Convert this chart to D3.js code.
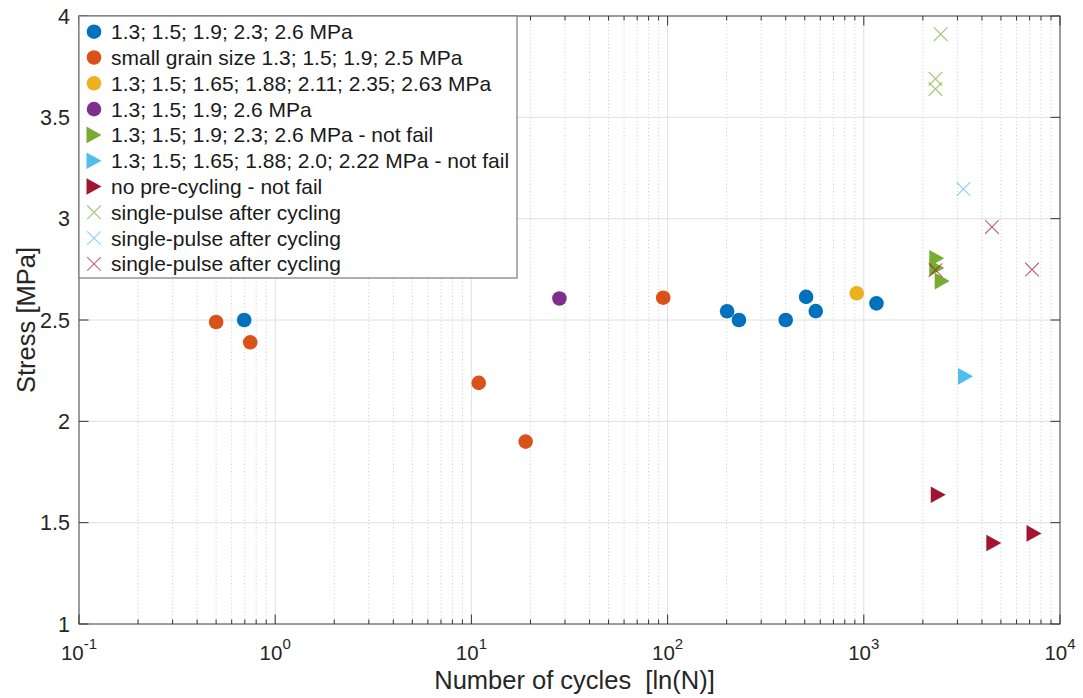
<!DOCTYPE html>
<html>
<head>
<meta charset="utf-8">
<script src="https://cdn.jsdelivr.net/npm/d3@7/dist/d3.min.js"></script>
<style>
  body { margin: 0; background: #fff; }
  svg { display: block; font-family: "Liberation Sans", Arial, Helvetica, sans-serif; }
</style>
</head>
<body>
<svg id="chart" width="1083" height="698"></svg>
<script>
// data
var blueN = [0.695, 201, 231, 400, 508, 569, 1160];
var blueS = [2.50, 2.543, 2.50, 2.50, 2.614, 2.544, 2.582];
var orangeN = [0.50, 0.746, 10.9, 18.9, 95];
var orangeS = [2.49, 2.39, 2.19, 1.90, 2.61];
var yellowN = [920];
var yellowS = [2.632];
var purpleN = [28.1];
var purpleS = [2.606];
var greenTriN = [2355, 2355, 2510];
var greenTriS = [2.805, 2.757, 2.692];
var cyanTriN = [3300];
var cyanTriS = [2.222];
var redTriN = [2395, 4600, 7370];
var redTriS = [1.638, 1.40, 1.447];
var greenXN = [2466, 2318, 2318];
var greenXS = [3.91, 3.69, 3.64];
var cyanXN = [3220];
var cyanXS = [3.146];
var redXN = [2320, 4500, 7200];
var redXS = [2.746, 2.959, 2.749];

var legendLabels = [
    '1.3; 1.5; 1.9; 2.3; 2.6 MPa',
    'small grain size 1.3; 1.5; 1.9; 2.5 MPa',
    '1.3; 1.5; 1.65; 1.88; 2.11; 2.35; 2.63 MPa',
    '1.3; 1.5; 1.9; 2.6 MPa',
    '1.3; 1.5; 1.9; 2.3; 2.6 MPa - not fail',
    '1.3; 1.5; 1.65; 1.88; 2.0; 2.22 MPa - not fail',
    'no pre-cycling - not fail',
    'single-pulse after cycling',
    'single-pulse after cycling',
    'single-pulse after cycling'
];

var xTicks = [0.1, 1, 10, 100, 1000, 10000];
var xTickExp = ['-1', '0', '1', '2', '3', '4'];
var yTicks = [1, 1.5, 2, 2.5, 3, 3.5, 4];
var yTickLabels = ['1', '1.5', '2', '2.5', '3', '3.5', '4'];

var series = [
    { n: blueN, s: blueS, shape: 'o', color: '#0072BD' },
    { n: orangeN, s: orangeS, shape: 'o', color: '#D95319' },
    { n: yellowN, s: yellowS, shape: 'o', color: '#EDB120' },
    { n: purpleN, s: purpleS, shape: 'o', color: '#7E2F8E' },
    { n: greenTriN, s: greenTriS, shape: '>', color: '#77AC30' },
    { n: cyanTriN, s: cyanTriS, shape: '>', color: '#4DBEEE' },
    { n: redTriN, s: redTriS, shape: '>', color: '#A2142F' },
    { n: greenXN, s: greenXS, shape: 'x', color: '#77AC30' },
    { n: cyanXN, s: cyanXS, shape: 'x', color: '#4DBEEE' },
    { n: redXN, s: redXS, shape: 'x', color: '#A2142F' }
];

var pL = 79, pR = 1060, pT = 16, pB = 624;

var svg = d3.select('#chart');

var x = d3.scaleLog().domain([0.1, 10000]).range([pL, pR]);
var y = d3.scaleLinear().domain([1, 4]).range([pB, pT]);

var minorTicks = x.ticks().filter(function (t) {
    return xTicks.indexOf(t) < 0 && t > 0.1 && t < 10000;
});

// grid
var grid = svg.append('g');
grid.selectAll(null).data(minorTicks).enter().append('line')
    .attr('x1', d => x(d)).attr('x2', d => x(d))
    .attr('y1', pT).attr('y2', pB)
    .attr('stroke', '#cccccc').attr('stroke-width', 1)
    .attr('stroke-dasharray', '1,2.5');
grid.selectAll(null).data(xTicks.slice(1, -1)).enter().append('line')
    .attr('x1', d => x(d)).attr('x2', d => x(d))
    .attr('y1', pT).attr('y2', pB)
    .attr('stroke', '#e0e0e0').attr('stroke-width', 1);
grid.selectAll(null).data(yTicks.slice(1, -1)).enter().append('line')
    .attr('x1', pL).attr('x2', pR)
    .attr('y1', d => y(d)).attr('y2', d => y(d))
    .attr('stroke', '#e0e0e0').attr('stroke-width', 1);

// ticks (inward, all four sides)
var ticks = svg.append('g').attr('stroke', '#333').attr('stroke-width', 1);
[pB, pT].forEach(function (yy) {
    var dir = yy === pB ? -1 : 1;
    ticks.selectAll(null).data(xTicks).enter().append('line')
        .attr('x1', d => x(d)).attr('x2', d => x(d))
        .attr('y1', yy).attr('y2', yy + dir * 9.5);
    ticks.selectAll(null).data(minorTicks).enter().append('line')
        .attr('x1', d => x(d)).attr('x2', d => x(d))
        .attr('y1', yy).attr('y2', yy + dir * 4.5);
});
[pL, pR].forEach(function (xx) {
    var dir = xx === pL ? 1 : -1;
    ticks.selectAll(null).data(yTicks).enter().append('line')
        .attr('x1', xx).attr('x2', xx + dir * 9.5)
        .attr('y1', d => y(d)).attr('y2', d => y(d));
});

// axes box
svg.append('rect')
    .attr('x', pL).attr('y', pT)
    .attr('width', pR - pL).attr('height', pB - pT)
    .attr('fill', 'none').attr('stroke', '#3a3a3a').attr('stroke-width', 1);

// tick labels
var xl = svg.append('g').attr('fill', '#262626').attr('font-size', 20.5);
xTicks.forEach(function (t, i) {
    var txt = xl.append('text')
        .attr('x', x(t)).attr('y', 660)
        .attr('text-anchor', 'middle');
    txt.append('tspan').text('10');
    txt.append('tspan').attr('font-size', 15).attr('dy', -11).text(xTickExp[i]);
});
svg.append('g').attr('fill', '#262626').attr('font-size', 21.5)
    .selectAll('text').data(yTicks).enter().append('text')
    .attr('x', 70).attr('y', d => y(d)).attr('dy', '0.36em')
    .attr('text-anchor', 'end')
    .text((d, i) => yTickLabels[i]);

// axis labels
svg.append('text')
    .attr('x', (pL + pR) / 2 + 5).attr('y', 689)
    .attr('text-anchor', 'middle').attr('font-size', 25.5).attr('fill', '#262626')
    .attr('xml:space', 'preserve')
    .text('Number of cycles  [ln(N)]');
svg.append('text')
    .attr('transform', 'translate(35,' + ((pT + pB) / 2) + ') rotate(-90)')
    .attr('text-anchor', 'middle').attr('font-size', 25.5).attr('fill', '#262626')
    .text('Stress [MPa]');

function drawMarker(g, shape, color, cx, cy) {
    if (shape === 'o') {
        g.append('circle').attr('cx', cx).attr('cy', cy).attr('r', 7.3)
            .attr('fill', color);
    } else if (shape === '>') {
        g.append('path')
            .attr('d', 'M' + (cx - 7.5) + ',' + (cy - 8.3) + 'L' + (cx + 7.5) + ',' + cy +
                'L' + (cx - 7.5) + ',' + (cy + 8.3) + 'Z')
            .attr('fill', color);
    } else {
        var h = 6.8;
        g.append('path')
            .attr('d', 'M' + (cx - h) + ',' + (cy - h) + 'L' + (cx + h) + ',' + (cy + h) +
                'M' + (cx - h) + ',' + (cy + h) + 'L' + (cx + h) + ',' + (cy - h))
            .attr('stroke', color).attr('stroke-width', 1.2)
            .attr('stroke-opacity', 0.65).attr('fill', 'none');
    }
}

// points
var marks = svg.append('g');
series.forEach(function (sr) {
    sr.n.forEach(function (v, i) {
        drawMarker(marks, sr.shape, sr.color, x(v), y(sr.s[i]));
    });
});

// legend
var leg = svg.append('g');
leg.append('rect')
    .attr('x', pL).attr('y', pT)
    .attr('width', 517 - pL).attr('height', 278 - pT)
    .attr('fill', '#fff').attr('stroke', '#7a7a7a').attr('stroke-width', 1.2);
series.forEach(function (sr, i) {
    var cy = 31.7 + i * 25.8;
    drawMarker(leg, sr.shape, sr.color, 94, cy);
    leg.append('text')
        .attr('x', 111).attr('y', cy).attr('dy', '0.36em')
        .attr('font-size', 21).attr('fill', '#1a1a1a')
        .text(legendLabels[i]);
});
</script>
</body>
</html>
